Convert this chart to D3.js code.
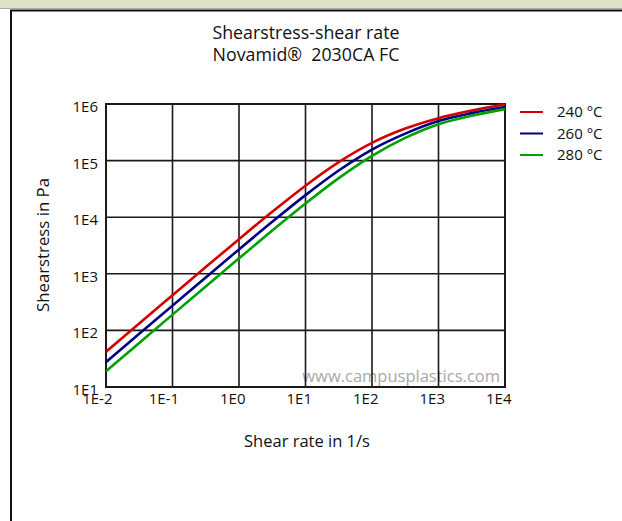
<!DOCTYPE html>
<html><head><meta charset="utf-8">
<script src="https://cdn.jsdelivr.net/npm/d3@7/dist/d3.min.js"></script>
<style>
html,body{margin:0;padding:0;background:#fff;}
svg{display:block;font-family:"Open Sans","Noto Sans",sans-serif;}
text{white-space:pre;}
</style></head>
<body>
<script>
// Data
const shearRates = [0.01, 0.0316, 0.1, 0.316, 1, 3.16, 10, 31.6, 100, 316, 1000, 3162, 10000];
const stress240 = [42, 133, 418, 1314, 4093, 12460, 36050, 93930, 205900, 367900, 562000, 765000, 990000];
const stress260 = [27.5, 86.9, 274, 863, 2699, 8300, 24550, 66800, 156600, 299900, 500000, 690000, 884000];
const stress280 = [19, 60, 190, 597, 1874, 5800, 17450, 49100, 121600, 252000, 440000, 620000, 812000];
const seriesNames = ["240 °C", "260 °C", "280 °C"];
const seriesColors = ["#d40000", "#000080", "#00a000"];
const xTickValues = [1e-2, 1e-1, 1e0, 1e1, 1e2, 1e3, 1e4];
const xTickLabels = ["1E-2", "1E-1", "1E0", "1E1", "1E2", "1E3", "1E4"];
const yTickValues = [1e1, 1e2, 1e3, 1e4, 1e5, 1e6];
const yTickLabels = ["1E1", "1E2", "1E3", "1E4", "1E5", "1E6"];

const W = 622, H = 521;
const svg = d3.select("body").append("svg").attr("width", W).attr("height", H);

// page decoration
svg.append("rect").attr("x", 0).attr("y", 0).attr("width", W).attr("height", 8).attr("fill", "#dfe2c6");
svg.append("line").attr("x1", 0).attr("x2", W).attr("y1", 8.5).attr("y2", 8.5).attr("stroke", "#aaa").attr("stroke-width", 1);
svg.append("path").attr("d", `M11,${H+5}V10.5H${W+5}`).attr("fill", "none").attr("stroke", "#111").attr("stroke-width", 2);

const L = 106, R = 505, T = 104, B = 387;
const x = d3.scaleLog().domain([1e-2, 1e4]).range([L, R]);
const y = d3.scaleLog().domain([1e1, 1e6]).range([B, T]);

// title
svg.append("text").attr("x", 306).attr("y", 39).attr("text-anchor", "middle").attr("font-size", 17.8).attr("fill", "#111").text("Shearstress-shear rate");
svg.append("text").attr("x", 306).attr("y", 61).attr("text-anchor", "middle").attr("font-size", 17.8).attr("fill", "#111").text("Novamid®  2030CA FC");

// watermark
svg.append("text").attr("x", 500).attr("y", 382).attr("text-anchor", "end").attr("font-size", 16.5).attr("fill", "#a8a8a8").text("www.campusplastics.com");

// grid
const g = svg.append("g");
g.selectAll(".gx").data(xTickValues).join("line")
  .attr("x1", d => x(d)).attr("x2", d => x(d)).attr("y1", T).attr("y2", B)
  .attr("stroke", "#1a1a1a").attr("stroke-width", 1.6);
g.selectAll(".gy").data(yTickValues).join("line")
  .attr("y1", d => y(d)).attr("y2", d => y(d)).attr("x1", L).attr("x2", R)
  .attr("stroke", "#1a1a1a").attr("stroke-width", 1.6);
g.append("rect").attr("x", L).attr("y", T).attr("width", R - L).attr("height", B - T)
  .attr("fill", "none").attr("stroke", "#1a1a1a").attr("stroke-width", 2);

// axes (labels only)
const xAxis = d3.axisBottom(x).tickValues(xTickValues).tickSize(0).tickPadding(0)
  .tickFormat((d, i) => xTickLabels[i]);
const ax = svg.append("g").attr("transform", `translate(0,${B})`).call(xAxis);
ax.select(".domain").remove();
ax.selectAll("text").attr("font-size", 15).attr("fill", "#111").attr("font-family", "Open Sans, Noto Sans, sans-serif")
  .attr("text-anchor", "end").attr("x", 6).attr("y", 17).attr("dy", null);

const yAxis = d3.axisLeft(y).tickValues(yTickValues).tickSize(0).tickPadding(8)
  .tickFormat((d, i) => yTickLabels[i]);
const ay = svg.append("g").attr("transform", `translate(${L},0)`).call(yAxis);
ay.select(".domain").remove();
ay.selectAll("text").attr("font-size", 15).attr("fill", "#111").attr("font-family", "Open Sans, Noto Sans, sans-serif")
  .attr("dy", "0.5em");

// axis titles
svg.append("text").attr("x", 307).attr("y", 447).attr("text-anchor", "middle").attr("font-size", 16.5).attr("fill", "#111").text("Shear rate in 1/s");
svg.append("text").attr("transform", "translate(49,245) rotate(-90)").attr("text-anchor", "middle").attr("font-size", 16.8).attr("fill", "#111").text("Shearstress in Pa");

// curves
const allSeries = [stress240, stress260, stress280];
const line = d3.line().x(d => x(d[0])).y(d => y(d[1])).curve(d3.curveMonotoneX);
svg.append("clipPath").attr("id", "c").append("rect").attr("x", L).attr("y", T - 3).attr("width", R - L).attr("height", B - T + 3);
allSeries.forEach((s, i) => {
  svg.append("path").datum(shearRates.map((r, k) => [r, s[k]]))
    .attr("d", line).attr("fill", "none").attr("stroke", seriesColors[i]).attr("stroke-width", 2.6)
    .attr("clip-path", "url(#c)");
});

// legend
seriesNames.forEach((n, i) => {
  const ly = 112 + i * 21.5;
  svg.append("line").attr("x1", 520).attr("x2", 543).attr("y1", ly).attr("y2", ly).attr("stroke", seriesColors[i]).attr("stroke-width", 2);
  svg.append("text").attr("x", 557).attr("y", ly + 5).attr("font-size", 15).attr("fill", "#111").text(n);
});
</script>
</body></html>
